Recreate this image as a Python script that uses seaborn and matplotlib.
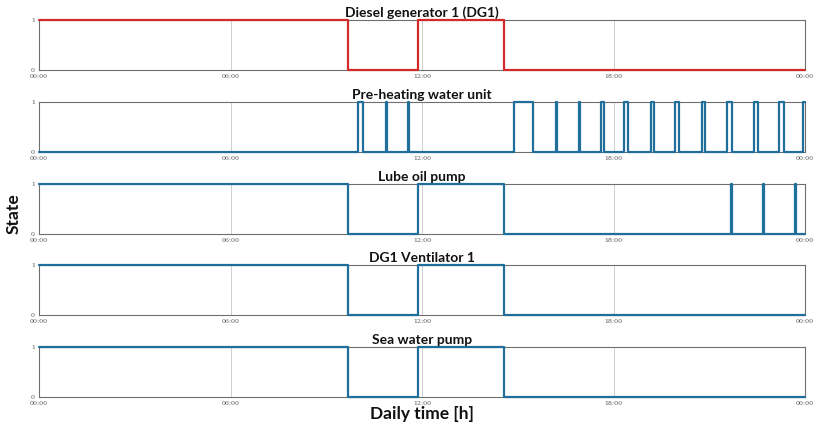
import matplotlib
matplotlib.use("Agg")
import matplotlib.pyplot as plt
import seaborn as sns
import pandas as pd

# Switching instants (hours of the day) and the state entered at each instant
dg1_times = [0.0, 9.68, 11.86, 14.56, 24.0]
dg1_states = [1, 0, 1, 0, 0]

preheat_times = [0.0, 10.00, 10.16, 10.87, 10.91, 11.55, 11.60, 14.87, 15.47,
                 16.19, 16.22, 16.92, 16.96, 17.60, 17.69, 18.34, 18.45,
                 19.16, 19.28, 19.94, 20.06, 20.76, 20.88, 21.57, 21.71,
                 22.39, 22.53, 23.18, 23.34, 23.94, 24.0]
preheat_states = [0, 1, 0, 1, 0, 1, 0, 1, 0,
                  1, 0, 1, 0, 1, 0, 1, 0,
                  1, 0, 1, 0, 1, 0, 1, 0,
                  1, 0, 1, 0, 1, 1]

lube_times = [0.0, 9.68, 11.86, 14.56, 21.67, 21.70, 22.69, 22.72, 23.70, 23.73, 24.0]
lube_states = [1, 0, 1, 0, 1, 0, 1, 0, 1, 0, 0]

vent_times = [0.0, 9.68, 11.86, 14.56, 24.0]
vent_states = [1, 0, 1, 0, 0]

sea_times = [0.0, 9.68, 11.86, 14.56, 24.0]
sea_states = [1, 0, 1, 0, 0]

titles = ["Diesel generator 1 (DG1)", "Pre-heating water unit", "Lube oil pump",
          "DG1 Ventilator 1", "Sea water pump"]
series = [(dg1_times, dg1_states), (preheat_times, preheat_states),
          (lube_times, lube_states), (vent_times, vent_states),
          (sea_times, sea_states)]
colors = ["#d42a2a", "#1f6e9c", "#1f6e9c", "#1f6e9c", "#1f6e9c"]

xtick_pos = [0, 6, 12, 18, 24]
xtick_labels = ["00:00", "06:00", "12:00", "18:00", "00:00"]

sns.set_theme(style="white")
plt.rcParams["font.family"] = ["Lato", "DejaVu Sans"]

fig = plt.figure(figsize=(8.14, 4.28), dpi=100)
W, H = 814, 428
left, right = 39, 805
tops = [20, 102, 184, 265, 347]
height = 50

for i, (title, (t, s), c) in enumerate(zip(titles, series, colors)):
    ax = fig.add_axes([left / W, 1 - (tops[i] + height) / H,
                       (right - left) / W, height / H])
    df = pd.DataFrame({"time": t, "state": s})
    sns.lineplot(data=df, x="time", y="state", ax=ax, color=c, linewidth=1.6,
                 drawstyle="steps-post", clip_on=False, zorder=5)
    ax.set_xlim(0, 24)
    ax.set_ylim(0, 1)
    ax.set_xticks(xtick_pos)
    ax.set_xticklabels(xtick_labels, family="DejaVu Serif", fontsize=4.5, color="#555555")
    ax.set_yticks([0, 1])
    ax.set_yticklabels(["0", "1"], family="DejaVu Serif", fontsize=4.5, color="#555555")
    ax.tick_params(axis="both", length=0, pad=3)
    ax.xaxis.grid(True, color="#cfcfcf", linewidth=0.7)
    ax.yaxis.grid(False)
    ax.set_xlabel("")
    ax.set_ylabel("")
    for sp in ax.spines.values():
        sp.set_color("#6e6e6e")
        sp.set_linewidth(0.8)
    ax.set_title(title, fontsize=10, fontweight="bold", pad=2, color="#111111")

fig.text(14 / W, 1 - 214 / H, "State", rotation=90, fontsize=12.5,
         fontweight="bold", ha="center", va="center", color="#111111")
fig.text(422 / W, 1 - 414 / H, "Daily time [h]", fontsize=12.5,
         fontweight="bold", ha="center", va="center", color="#111111")

fig.savefig("out.png", dpi=100)
